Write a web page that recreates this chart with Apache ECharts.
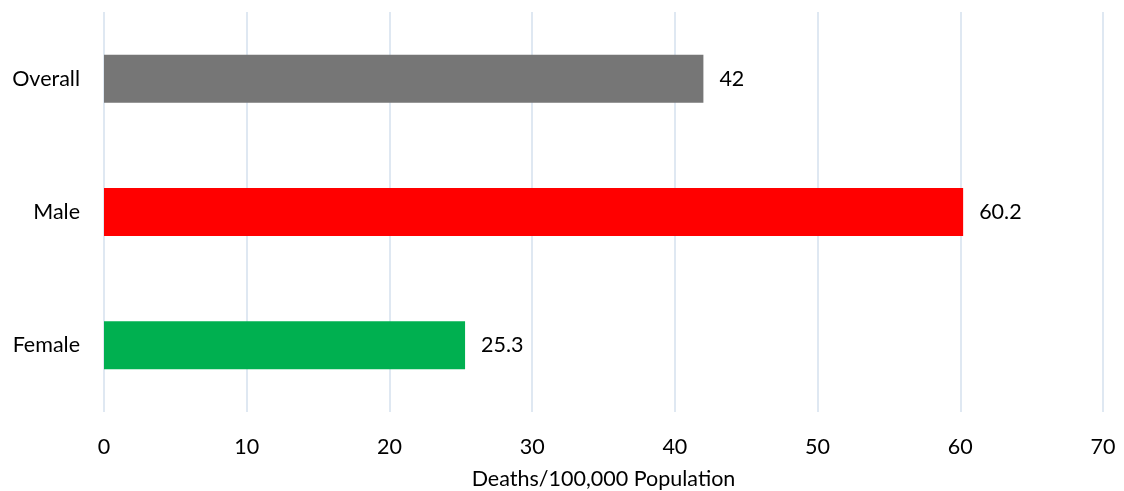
<!DOCTYPE html>
<html>
<head>
<meta charset="utf-8">
<script src="https://cdn.jsdelivr.net/npm/echarts@6/dist/echarts.min.js"></script>
<style>html,body{margin:0;padding:0;background:#fff;}#c{width:1124px;height:491px;}</style>
</head>
<body>
<div id="c"></div>
<script>
var categories = ["Overall", "Male", "Female"];
var values = [42, 60.2, 25.3];
var barColors = ["#767676", "#FF0000", "#00B050"];
var xTicks = [0, 10, 20, 30, 40, 50, 60, 70];
var axisTitle = "Deaths/100,000 Population";

var font = "Lato, 'Open Sans', sans-serif";
var fs = 21.5;
var chart = echarts.init(document.getElementById('c'), null, {renderer: 'canvas'});
chart.setOption({
  animation: false,
  grid: {left: 104, right: 21, top: 12, bottom: 79, containLabel: false, outerBoundsMode: 'none'},
  xAxis: {
    type: 'value', min: xTicks[0], max: xTicks[xTicks.length - 1], interval: 10,
    name: axisTitle, nameLocation: 'middle', nameGap: 56,
    nameTextStyle: {fontFamily: font, fontSize: fs, color: '#000'},
    axisLine: {show: false}, axisTick: {show: false},
    axisLabel: {fontFamily: font, fontSize: fs, color: '#000', margin: 24},
    splitLine: {show: true, lineStyle: {color: '#dfe8f2', width: 2}}
  },
  yAxis: {
    type: 'category', data: categories, inverse: true,
    axisLine: {show: false}, axisTick: {show: false},
    axisLabel: {fontFamily: font, fontSize: fs, color: '#000', margin: 24},
    splitLine: {show: false}
  },
  series: [{
    type: 'bar',
    data: values.map(function (v, i) { return {value: v, itemStyle: {color: barColors[i]}}; }),
    barWidth: 48,
    label: {show: true, position: 'right', distance: 16, fontFamily: font, fontSize: fs, color: '#000'}
  }]
});
</script>
</body>
</html>
